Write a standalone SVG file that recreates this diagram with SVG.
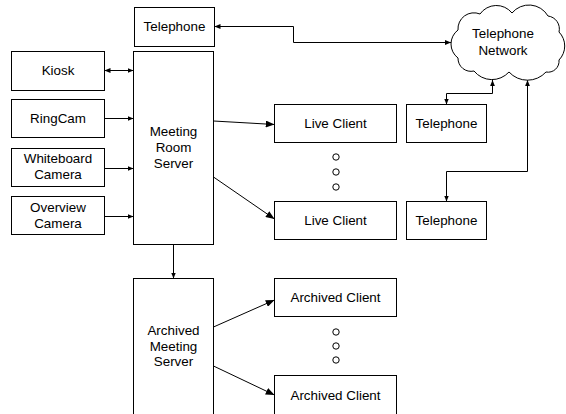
<svg xmlns="http://www.w3.org/2000/svg" width="566" height="414" viewBox="0 0 566 414">
<style>
.box{fill:#fff;stroke:#000;stroke-width:1}
.t{font-family:"Liberation Sans",Arial,sans-serif;font-size:13.4px;fill:#000;text-anchor:middle}
.c{fill:none;stroke:#000;stroke-width:1}
.dot{fill:#fff;stroke:#000;stroke-width:1}
</style>
<defs>
<marker id="big" viewBox="0 0 10 8" refX="10" refY="4" markerWidth="9" markerHeight="7" markerUnits="userSpaceOnUse" orient="auto-start-reverse"><path d="M0,0 L10,4 L0,8 z" fill="#000"/></marker>
<marker id="sm" viewBox="0 0 10 8" refX="10" refY="4" markerWidth="6" markerHeight="6" markerUnits="userSpaceOnUse" orient="auto-start-reverse"><path d="M0,0 L10,4 L0,8 z" fill="#000"/></marker>
</defs>
<rect width="566" height="414" fill="#fff"/>
<g id="connectors">
<line class="c" x1="104.5" y1="70.5" x2="133.5" y2="70.5" marker-start="url(#sm)" marker-end="url(#sm)"/>
<line class="c" x1="104.5" y1="118.5" x2="133.5" y2="118.5" marker-end="url(#sm)"/>
<line class="c" x1="104.5" y1="168.5" x2="133.5" y2="168.5" marker-end="url(#sm)"/>
<line class="c" x1="104.5" y1="216.5" x2="133.5" y2="216.5" marker-end="url(#sm)"/>
<line class="c" x1="213.5" y1="121" x2="274.5" y2="124.5" marker-end="url(#big)"/>
<line class="c" x1="213.5" y1="177" x2="274.5" y2="219" marker-end="url(#big)"/>
<line class="c" x1="173.5" y1="244.5" x2="173.5" y2="278.5" marker-end="url(#sm)"/>
<line class="c" x1="213.5" y1="327" x2="274.5" y2="300" marker-end="url(#big)"/>
<line class="c" x1="213.5" y1="366" x2="274.5" y2="395" marker-end="url(#big)"/>
<polyline class="c" points="214.5,26.5 293.5,26.5 293.5,42.5 451,42.5" marker-start="url(#sm)" marker-end="url(#sm)"/>
<polyline class="c" points="492.5,80 492.5,93.5 446.5,93.5 446.5,104.5" marker-start="url(#sm)" marker-end="url(#sm)"/>
<polyline class="c" points="527.5,80 527.5,171.5 446.5,171.5 446.5,201.5" marker-start="url(#sm)" marker-end="url(#sm)"/>
</g>
<g id="telephone-top"><rect class="box" x="134.5" y="7.5" width="80" height="39"/><text class="t" x="174.5" y="31">Telephone</text></g>
<g id="kiosk"><rect class="box" x="11.5" y="51.5" width="93" height="39"/><text class="t" x="58" y="75">Kiosk</text></g>
<g id="ringcam"><rect class="box" x="11.5" y="99.5" width="93" height="38"/><text class="t" x="58" y="123">RingCam</text></g>
<g id="whiteboard-camera"><rect class="box" x="11.5" y="148.5" width="93" height="38"/><text class="t" x="58" y="163">Whiteboard</text><text class="t" x="58" y="179">Camera</text></g>
<g id="overview-camera"><rect class="box" x="11.5" y="196.5" width="93" height="38"/><text class="t" x="58" y="212">Overview</text><text class="t" x="58" y="228">Camera</text></g>
<g id="meeting-room-server"><rect class="box" x="133.5" y="51.5" width="80" height="193"/><text class="t" x="173.5" y="136">Meeting</text><text class="t" x="173.5" y="152">Room</text><text class="t" x="173.5" y="168">Server</text></g>
<g id="archived-meeting-server"><rect class="box" x="133.5" y="278.5" width="80" height="145"/><text class="t" x="173.5" y="335">Archived</text><text class="t" x="173.5" y="351">Meeting</text><text class="t" x="173.5" y="366">Server</text></g>
<g id="live-client-1"><rect class="box" x="274.5" y="104.5" width="122" height="38"/><text class="t" x="335.5" y="128">Live Client</text></g>
<g id="live-client-2"><rect class="box" x="274.5" y="201.5" width="122" height="38"/><text class="t" x="335.5" y="225">Live Client</text></g>
<g id="telephone-1"><rect class="box" x="406.5" y="104.5" width="80" height="38"/><text class="t" x="446.5" y="128">Telephone</text></g>
<g id="telephone-2"><rect class="box" x="406.5" y="201.5" width="80" height="38"/><text class="t" x="446.5" y="225">Telephone</text></g>
<g id="archived-client-1"><rect class="box" x="274.5" y="278.5" width="122" height="38"/><text class="t" x="335.5" y="302">Archived Client</text></g>
<g id="archived-client-2"><rect class="box" x="274.5" y="375.5" width="122" height="48"/><text class="t" x="335.5" y="400">Archived Client</text></g>
<g id="live-dots"><circle class="dot" cx="336" cy="157" r="3.2"/><circle class="dot" cx="336" cy="172" r="3.2"/><circle class="dot" cx="336" cy="187" r="3.2"/></g>
<g id="archived-dots"><circle class="dot" cx="336" cy="332" r="3.2"/><circle class="dot" cx="336" cy="346" r="3.2"/><circle class="dot" cx="336" cy="360" r="3.2"/></g>
<g id="telephone-network">
<path class="box" d="M458,30 A16,16 0 0 1 480,14 A20,20 0 0 1 512,13 A22,22 0 0 1 548,16 A13,13 0 0 1 559,32 A20,20 0 0 1 559,60 A11,11 0 0 1 546,72 A25,25 0 0 1 509,72 A23,23 0 0 1 474,71 A13,13 0 0 1 458,58 A17.5,17.5 0 0 1 458,30 Z"/>
<text class="t" x="503" y="38">Telephone</text><text class="t" x="503" y="55">Network</text>
</g>
</svg>
